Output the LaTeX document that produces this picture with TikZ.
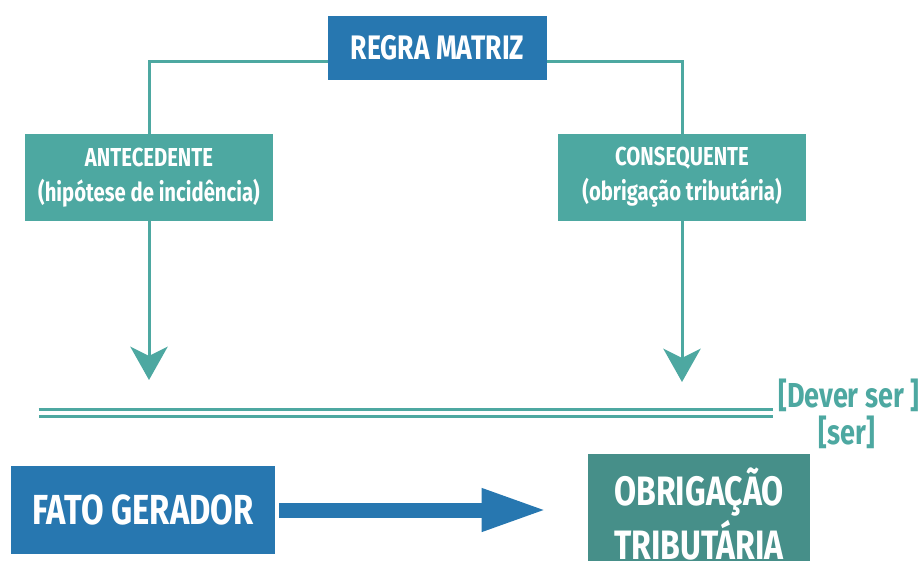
\documentclass[tikz,border=0pt]{standalone}
\usepackage{fontspec}
\newfontfamily\condfont{Fira Sans}[FakeStretch=0.78]
\usetikzlibrary{arrows.meta}
\definecolor{regblue}{HTML}{2777B0}
\definecolor{regteal}{HTML}{4DA8A1}
\definecolor{darkteal}{HTML}{468F89}
\begin{document}
\begin{tikzpicture}[x=0.75pt, y=-0.75pt,
    bluebox/.style={rectangle, fill=regblue, text=white, align=center, font=\condfont\bfseries},
    tealbox/.style={rectangle, fill=regteal, text=white, align=center, minimum width=186pt, minimum height=65.25pt, font=\condfont\bfseries\fontsize{19.5}{26}\selectfont},
    link/.style={draw=regteal, line width=2.25pt},
    arrow/.style={link, -{Stealth[length=25pt, width=28pt, inset=7pt]}},
    bigarrow/.style={draw=regblue, line width=11.25pt, -{Triangle[length=49.5pt, width=29.25pt]}},
    plane/.style={text=regteal, font=\condfont\bfseries\fontsize{26}{30}\selectfont}
]
    \useasboundingbox (0,0) rectangle (923,560);
    \clip (0,0) rectangle (923,560);

    \node[bluebox, minimum width=164.25pt, minimum height=48pt, font=\condfont\bfseries\fontsize{25.5}{30}\selectfont] (regra) at (437.5,48) {REGRA MATRIZ};

    \node[tealbox] (ante) at (149,177.5) {ANTECEDENTE\\(hipótese de incidência)};
    \node[tealbox] (cons) at (682,177.5) {CONSEQUENTE\\(obrigação tributária)};

    \draw[link] ([yshift=-10.5pt]regra.west) -| (ante.north);
    \draw[link] ([yshift=-10.5pt]regra.east) -| (cons.north);

    \coordinate (tipL) at (149,380);
    \coordinate (tipR) at (682,382);
    \draw[arrow] (ante.south) -- (tipL);
    \draw[arrow] (cons.south) -- (tipR);

    \coordinate (left) at (38.5,412.5);
    \coordinate (right) at (773,412.5);
    \draw[draw=regteal, line width=2.25pt, double=white, double distance=3pt] (left) -- (right);

    \node[plane, anchor=west, inner sep=0pt] (dever) at (778,395) {[Dever ser ]};
    \node[plane, inner sep=0pt] (ser) at (847,432) {[ser]};

    \node[bluebox, minimum width=198pt, minimum height=66pt, font=\condfont\bfseries\fontsize{31.5}{36}\selectfont] (fato) at (143,510) {FATO GERADOR};
    \node[rectangle, fill=darkteal, text=white, align=center, minimum width=166.5pt, minimum height=90pt, font=\condfont\bfseries\fontsize{30.8}{40}\selectfont] (obrig) at (699,514) {OBRIGAÇÃO\\TRIBUTÁRIA};

    \draw[bigarrow, shorten <=3pt, shorten >=30pt] (fato.east) -- (fato.east -| obrig.west);
\end{tikzpicture}
\end{document}
